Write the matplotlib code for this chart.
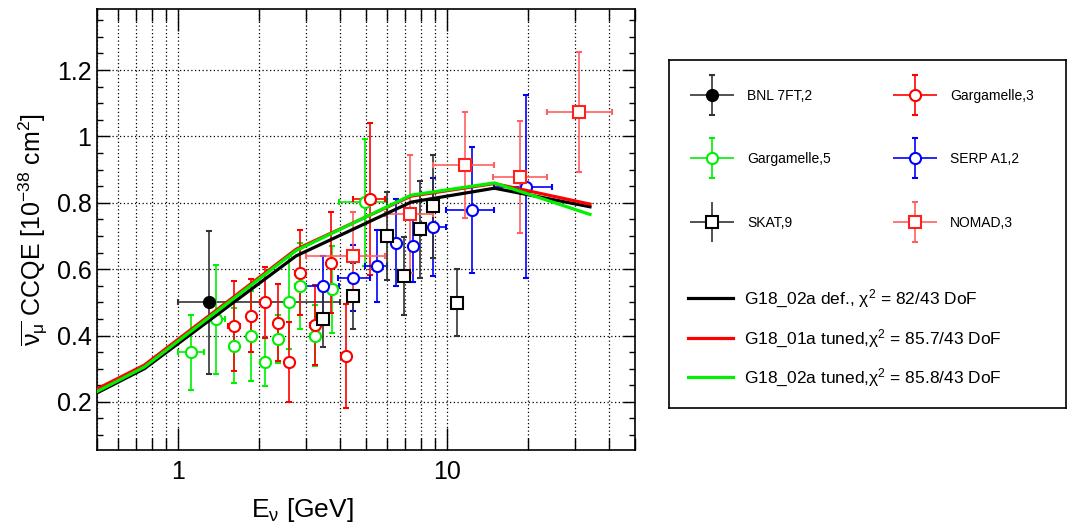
import numpy as np
import matplotlib.pyplot as plt
from matplotlib import ticker
from matplotlib.legend_handler import HandlerErrorbar

plt.rcParams['font.family'] = ['Liberation Sans', 'DejaVu Sans']
plt.rcParams['mathtext.fontset'] = 'dejavusans'
plt.rcParams['mathtext.default'] = 'regular'

# model predictions (GENIE tunes)
model_E = [0.5, 0.75, 2.75, 7.35, 15.0, 34.0]
g18_02a_def = [0.227, 0.300, 0.640, 0.802, 0.844, 0.788]
g18_01a_tuned = [0.239, 0.311, 0.660, 0.820, 0.858, 0.796]
g18_02a_tuned = [0.231, 0.305, 0.656, 0.823, 0.860, 0.765]

# BNL 7FT
bnl_E = [1.3]
bnl_lo = [1.0]
bnl_hi = [4.0]
bnl_xs = [0.50]
bnl_err = [0.215]

# Gargamelle (ref 3)
garg3_E = [1.62, 1.87, 2.10, 2.36, 2.59, 2.84, 3.23, 3.71, 4.21, 5.17]
garg3_lo = [1.53, 1.80, 2.02, 2.27, 2.49, 2.73, 3.10, 3.57, 4.05, 4.47]
garg3_hi = [1.70, 1.95, 2.18, 2.45, 2.69, 2.95, 3.36, 3.85, 4.37, 5.88]
garg3_xs = [0.429, 0.459, 0.500, 0.439, 0.320, 0.589, 0.432, 0.620, 0.339, 0.811]
garg3_err = [0.135, 0.110, 0.107, 0.115, 0.120, 0.128, 0.120, 0.152, 0.156, 0.230]

# Gargamelle (ref 5)
garg5_E = [1.12, 1.385, 1.62, 1.87, 2.10, 2.36, 2.59, 2.84, 3.23, 3.74, 4.96]
garg5_lo = [1.0, 1.28, 1.56, 1.80, 2.02, 2.27, 2.49, 2.73, 3.10, 3.60, 3.97]
garg5_hi = [1.25, 1.50, 1.69, 1.95, 2.18, 2.45, 2.69, 2.95, 3.36, 3.88, 6.0]
garg5_xs = [0.349, 0.449, 0.369, 0.399, 0.320, 0.390, 0.500, 0.549, 0.399, 0.539, 0.801]
garg5_err = [0.113, 0.165, 0.113, 0.135, 0.072, 0.073, 0.140, 0.130, 0.092, 0.130, 0.190]

# SERP A1
serp_E = [3.47, 4.48, 5.48, 6.45, 7.45, 8.89, 12.36, 19.6]
serp_lo = [3.0, 3.94, 4.96, 6.45, 7.45, 8.3, 9.9, 15.0]
serp_hi = [3.97, 5.17, 5.97, 6.45, 7.45, 9.9, 14.9, 24.6]
serp_xs = [0.549, 0.573, 0.610, 0.680, 0.670, 0.728, 0.778, 0.849]
serp_err = [0.090, 0.100, 0.108, 0.130, 0.110, 0.148, 0.190, 0.275]

# SKAT
skat_E = [3.47, 4.48, 5.97, 6.94, 7.94, 8.89, 10.87]
skat_xs = [0.450, 0.520, 0.700, 0.580, 0.720, 0.790, 0.499]
skat_err = [0.085, 0.100, 0.133, 0.117, 0.147, 0.155, 0.100]

# NOMAD
nomad_E = [4.48, 7.29, 11.67, 18.7, 30.9]
nomad_lo = [3.0, 5.9, 8.9, 14.8, 23.5]
nomad_hi = [5.9, 8.9, 14.9, 23.5, 41.1]
nomad_xs = [0.640, 0.766, 0.914, 0.877, 1.074]
nomad_err = [0.133, 0.177, 0.160, 0.168, 0.180]

GREEN = '#00f000'

fig = plt.figure(figsize=(10.68, 5.27), dpi=100)
ax = fig.add_axes([0.0908, 0.1461, 0.5038, 0.8368])


def draw_set(E, lo, hi, xs, err, color, marker, face, label, ecolor=None):
    E = np.array(E)
    xerr = [E - np.array(lo), np.array(hi) - E]
    return ax.errorbar(E, xs, yerr=err, xerr=xerr, fmt=marker, ms=8, mew=1.5,
                       mec=color, mfc=face, ecolor=ecolor or color, elinewidth=1.2,
                       capsize=2.5, capthick=1.2, label=label, zorder=3)


ax.plot(model_E, g18_02a_def, color='black', lw=2.3, zorder=4,
        label='G18_02a def., $\\chi^2$ = 82/43 DoF')
ax.plot(model_E, g18_01a_tuned, color='#ff0000', lw=2.3, zorder=4,
        label='G18_01a tuned,$\\chi^2$ = 85.7/43 DoF')
ax.plot(model_E, g18_02a_tuned, color=GREEN, lw=2.3, zorder=4,
        label='G18_02a tuned,$\\chi^2$ = 85.8/43 DoF')

h_bnl = draw_set(bnl_E, bnl_lo, bnl_hi, bnl_xs, bnl_err, 'black', 'o', 'black',
                 'BNL 7FT,2', ecolor='#333333')
h_g5 = draw_set(garg5_E, garg5_lo, garg5_hi, garg5_xs, garg5_err, GREEN, 'o', 'white',
                'Gargamelle,5')
h_g3 = draw_set(garg3_E, garg3_lo, garg3_hi, garg3_xs, garg3_err, '#ff0000', 'o', 'white',
                'Gargamelle,3')
h_serp = draw_set(serp_E, serp_lo, serp_hi, serp_xs, serp_err, '#0000ff', 'o', 'white',
                  'SERP A1,2')
h_skat = draw_set(skat_E, skat_E, skat_E, skat_xs, skat_err, 'black', 's', 'white',
                  'SKAT,9', ecolor='#333333')
# no energy bins for SKAT: hide the horizontal caps
for cap in h_skat[1]:
    if cap.get_marker() == '|':
        cap.set_visible(False)
h_nomad = draw_set(nomad_E, nomad_lo, nomad_hi, nomad_xs, nomad_err, '#ff2020', 's', 'white',
                   'NOMAD,3', ecolor='#ff6060')

ax.set_xscale('log')
ax.set_xlim(0.5, 50)
ax.set_ylim(0.055, 1.384)
ax.xaxis.set_major_formatter(ticker.FuncFormatter(lambda v, p: f'{v:g}'))
ax.xaxis.set_minor_formatter(ticker.NullFormatter())
ax.yaxis.set_major_locator(ticker.MultipleLocator(0.2))
ax.yaxis.set_minor_locator(ticker.MultipleLocator(0.05))
ax.yaxis.set_major_formatter(ticker.FuncFormatter(lambda v, p: f'{v:g}'))

ax.tick_params(axis='x', which='major', direction='in', length=16, width=1, top=True,
               labelsize=18, pad=7)
ax.tick_params(axis='x', which='minor', direction='in', length=8.5, width=1, top=True)
ax.tick_params(axis='y', which='major', direction='in', length=9, width=1, right=True,
               labelsize=18, pad=4)
ax.tick_params(axis='y', which='minor', direction='in', length=4.5, width=1, right=True)
for s in ax.spines.values():
    s.set_linewidth(1.2)

ax.grid(axis='x', which='both', color='black', linestyle=(0, (1, 2)), linewidth=0.9)
ax.grid(axis='y', which='major', color='black', linestyle=(0, (1, 2)), linewidth=0.9)
ax.set_axisbelow(True)

ax.set_xlabel('E$_{\\nu}$ [GeV]', fontsize=19)
ax.xaxis.set_label_coords(0.381, -0.105)
ax.set_ylabel('$\\overline{\\nu_{\\mu}}$ CCQE [10$^{-38}$ cm$^{2}$]', fontsize=18)
ax.yaxis.set_label_coords(-0.087, 0.5)


class CrossHandler(HandlerErrorbar):
    # ROOT style legend key: caps only on the vertical bar
    def create_artists(self, *args, **kwargs):
        artists = super().create_artists(*args, **kwargs)
        for a in artists:
            if hasattr(a, 'get_marker') and a.get_marker() == '|':
                a.set_visible(False)
        return artists


# legend box
lax = fig.add_axes([0.6264, 0.2258, 0.3717, 0.6603])
lax.set_xticks([])
lax.set_yticks([])
for s in lax.spines.values():
    s.set_linewidth(1.2)

handler = CrossHandler(xerr_size=1.58, yerr_size=1.44)
marker_handles = [h_bnl, h_g5, h_skat, h_g3, h_serp, h_nomad]
leg1 = lax.legend(marker_handles, [h.get_label() for h in marker_handles],
                  handler_map={type(h_bnl): handler}, ncol=2, loc='upper left',
                  bbox_to_anchor=(0.053, 0.917), borderpad=0, borderaxespad=0,
                  frameon=False, fontsize=10, handlelength=3.17, handletextpad=0.94,
                  columnspacing=4.46, labelspacing=3.56)
lax.add_artist(leg1)

line_handles = ax.get_lines()[:3]
lax.legend(line_handles, [h.get_label() for h in line_handles], loc='upper left',
           bbox_to_anchor=(0.048, 0.345), borderpad=0, borderaxespad=0, frameon=False,
           fontsize=12.5, handlelength=2.6, handletextpad=0.63, labelspacing=1.0)

fig.savefig('out.png', dpi=100)
